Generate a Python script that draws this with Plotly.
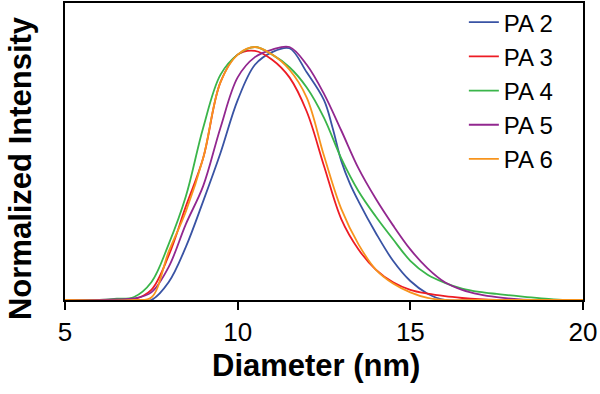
import plotly.graph_objects as go

# Diameter (nm) grid and normalized intensity
pa2_d = [5.0, 7.0, 7.5, 8.0, 8.5, 9.0, 9.5, 10.0, 10.5, 11.0, 11.5, 12.0, 12.5, 12.75, 13.0, 13.25, 13.5, 14.0, 14.5, 15.0, 15.5, 16.0, 17.0, 20.0]
pa2_i = [0.0, 0.0, 0.0, 0.07, 0.21, 0.39, 0.58, 0.79, 0.93, 0.98, 0.995, 0.90, 0.79, 0.68, 0.55, 0.46, 0.39, 0.265, 0.155, 0.075, 0.025, 0.0, 0.0, 0.0]

pa3_d = [5.0, 6.5, 7.0, 7.5, 8.0, 8.5, 9.0, 9.5, 10.0, 10.5, 11.0, 11.5, 12.0, 12.5, 13.0, 13.5, 14.0, 14.5, 15.0, 15.5, 16.0, 16.5, 17.0, 17.5, 18.0, 20.0]
pa3_i = [0.0, 0.0, 0.003, 0.04, 0.175, 0.37, 0.56, 0.86, 0.97, 0.985, 0.95, 0.88, 0.745, 0.53, 0.32, 0.20, 0.12, 0.07, 0.04, 0.025, 0.015, 0.008, 0.003, 0.0, 0.0, 0.0]

pa4_d = [5.0, 6.0, 6.5, 7.0, 7.5, 8.0, 8.5, 9.0, 9.5, 10.0, 10.5, 11.0, 11.5, 12.0, 12.5, 13.0, 13.5, 14.0, 14.5, 15.0, 15.5, 16.0, 16.5, 17.0, 17.5, 18.0, 18.5, 19.0, 19.5, 20.0]
pa4_i = [0.0, 0.0, 0.005, 0.012, 0.07, 0.22, 0.41, 0.68, 0.89, 0.97, 1.0, 0.97, 0.92, 0.84, 0.72, 0.56, 0.43, 0.33, 0.24, 0.155, 0.10, 0.068, 0.045, 0.032, 0.024, 0.017, 0.01, 0.004, 0.0, 0.0]

pa5_d = [5.0, 6.0, 6.5, 7.0, 7.5, 8.0, 8.5, 9.0, 9.5, 10.0, 10.5, 11.0, 11.5, 12.0, 12.5, 13.0, 13.5, 14.0, 14.5, 15.0, 15.5, 16.0, 16.5, 17.0, 17.5, 18.0, 18.5, 20.0]
pa5_i = [0.0, 0.0, 0.002, 0.006, 0.03, 0.13, 0.30, 0.45, 0.68, 0.88, 0.96, 0.99, 1.0, 0.93, 0.815, 0.67, 0.52, 0.40, 0.295, 0.20, 0.125, 0.07, 0.04, 0.022, 0.011, 0.004, 0.0, 0.0]

pa6_d = [5.0, 7.0, 7.5, 8.0, 8.5, 9.0, 9.5, 10.0, 10.5, 11.0, 11.5, 12.0, 12.5, 13.0, 13.5, 14.0, 14.5, 15.0, 15.5, 16.0, 17.0, 20.0]
pa6_i = [0.0, 0.0, 0.01, 0.19, 0.35, 0.56, 0.86, 0.97, 1.0, 0.97, 0.91, 0.80, 0.57, 0.36, 0.22, 0.12, 0.065, 0.03, 0.008, 0.0, 0.0, 0.0]

names = ["PA 2", "PA 3", "PA 4", "PA 5", "PA 6"]
colors = ["#3953A4", "#ED1C24", "#3AB54A", "#92278F", "#F7941D"]
xs = [pa2_d, pa3_d, pa4_d, pa5_d, pa6_d]
ys = [pa2_i, pa3_i, pa4_i, pa5_i, pa6_i]

x_ticks = [5, 10, 15, 20]

fig = go.Figure()
for n, c, x, y in zip(names, colors, xs, ys):
    fig.add_trace(go.Scatter(x=x, y=y, mode="lines", name=n, legendgroup=n,
                             line=dict(color=c, width=1.8, shape="spline", smoothing=1.0)))

FONT = "Arial, Liberation Sans, sans-serif"
fig.update_layout(
    width=600, height=394,
    margin=dict(l=65, r=17, t=3, b=94, autoexpand=False),
    plot_bgcolor="white", paper_bgcolor="white",
    showlegend=True,
    legend=dict(x=0.770, y=1.01, xanchor="left", yanchor="top",
                font=dict(family=FONT, size=24, color="black"),
                itemwidth=30, tracegroupgap=0, bgcolor="rgba(0,0,0,0)"),
    xaxis=dict(range=[5, 20], tickvals=x_ticks, ticktext=[str(t) for t in x_ticks],
               showline=True, linecolor="black", linewidth=2, mirror=True,
               ticks="outside", ticklen=8, tickwidth=2, tickcolor="black",
               showgrid=False, zeroline=False, automargin=False,
               tickfont=dict(family=FONT, size=26, color="black")),
    yaxis=dict(range=[0, 1.174], showticklabels=False, ticks="",
               showline=True, linecolor="black", linewidth=2, mirror=True,
               showgrid=False, zeroline=False, automargin=False),
    annotations=[
        dict(text="<b>Diameter (nm)</b>", xref="paper", yref="paper",
             x=0.485, y=-0.222, xanchor="center", yanchor="middle", showarrow=False,
             font=dict(family=FONT, size=31, color="black")),
        dict(text="<b>Normalized Intensity</b>", xref="paper", yref="paper",
             x=-0.087, y=0.444, xanchor="center", yanchor="middle", showarrow=False,
             textangle=-90, font=dict(family=FONT, size=31, color="black")),
    ],
)

fig.write_html("out.html", config={"displayModeBar": False},
               post_script="document.body.style.margin='0';document.body.style.overflow='hidden';")
